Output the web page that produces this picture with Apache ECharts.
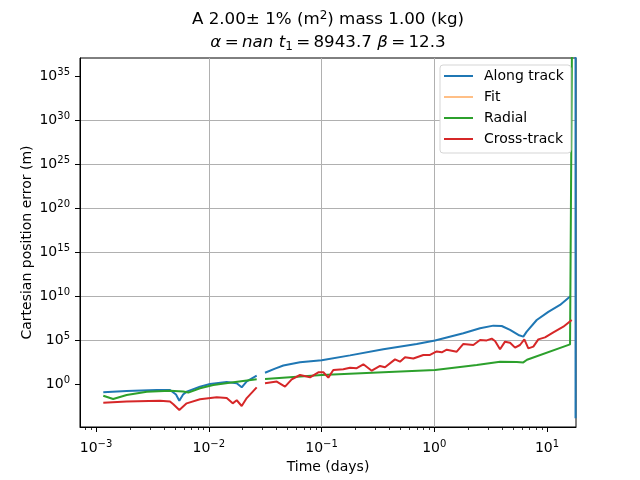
<!DOCTYPE html>
<html><head><meta charset="utf-8">
<script src="https://cdn.jsdelivr.net/npm/echarts@6/dist/echarts.min.js"></script>
<style>html,body{margin:0;padding:0;background:#fff}#c{width:640px;height:480px}</style>
</head><body><div id="c"></div>
<script>
// ---- data ----
const alongTrackDays = [0.00116,0.00187,0.00345,0.00453,0.00512,0.00548,0.00592,0.00637,0.00836,0.01026,0.01443,0.01770,0.01959,0.02172,0.02661,0.029,0.03153,0.0387,0.04585,0.06443,0.1004,0.1790,0.3533,0.6986,1.016,1.811,2.547,3.342,3.963,4.700,5.57,6.163,6.604,8.104,10.27,13.04,16.22,17.0,17.9,17.9];
const alongTrackErr  = [0.115,0.158,0.209,0.209,0.063,0.0126,0.063,0.135,0.501,1.0,1.70,1.20,0.417,2.0,8.9,null,19.1,56,126,288,501,1780,8710,35500,89100,575000,2.14e6,4.27e6,3.89e6,1.38e6,3.72e5,2.40e5,8.91e5,1.86e7,1.58e8,9.55e8,1e10,null,1.26e-4,1e40];
const fitDays = [];
const fitErr  = [];
const radialDays = [0.00116,0.00142,0.00187,0.00282,0.00453,0.00594,0.00659,0.00836,0.01097,0.01651,0.02661,0.029,0.03153,0.1004,0.3533,1.016,2.381,3.830,5.388,6.163,6.646,16.00,16.67];
const radialErr  = [0.0468,0.0200,0.0562,0.133,0.174,0.141,0.105,0.324,0.776,1.55,3.39,null,3.72,10.5,21.4,38.9,145,339,316,282,562,31600,1e40];
const crossDays = [0.00116,0.00187,0.00370,0.00453,0.00485,0.00548,0.00637,0.00836,0.01177,0.01443,0.01630,0.01770,0.01959,0.02172,0.02661,0.029,0.03153,0.04009,0.04745,0.05441,0.06443,0.07907,0.09370,0.1038,0.1149,0.1272,0.1560,0.1790,0.2052,0.2350,0.2788,0.3302,0.3656,0.4486,0.4966,0.5503,0.6521,0.7998,0.916,1.052,1.165,1.291,1.582,1.811,2.220,2.547,2.919,3.233,3.459,3.830,4.240,4.700,5.205,5.757,6.290,6.826,7.562,8.374,9.60,11.38,13.96,16.56];
const crossErr  = [0.00759,0.0100,0.0126,0.0100,0.00501,0.00112,0.00631,0.0182,0.0302,0.0251,0.00631,0.0141,0.00316,0.0251,0.417,null,1.20,1.86,0.501,3.39,10.5,5.75,21.4,21.4,5.25,38.9,46.8,70.8,63.1,174,32.4,112,79.4,631,339,1070,794,2000,2000,5010,3980,7940,4680,35500,26900,100000,89100,141000,77600,8710,64600,49000,13500,26900,117000,11000,17400,117000,200000,741000,3240000,18600000];
const xMajorTicks = [0.001,0.01,0.1,1,10];
const xMinorTicks = [0.0008,0.0009,0.002,0.003,0.004,0.005,0.006,0.007,0.008,0.009,0.02,0.03,0.04,0.05,0.06,0.07,0.08,0.09,0.2,0.3,0.4,0.5,0.6,0.7,0.8,0.9,2,3,4,5,6,7,8,9];
const yMajorTicks = [1,1e5,1e10,1e15,1e20,1e25,1e30,1e35];

const X_MIN = 7.21e-4, X_MAX = 18.07, Y_MIN = 1.29e-5, Y_MAX = 1.12e37;
const FONT = 'DejaVu Sans';

function pairs(xs, ys){ return xs.map((x,i)=> ys[i]==null ? [x,'-'] : [x, ys[i]]); }
function powLabel(v){
  const e = Math.round(Math.log10(v));
  return '{b|10}{s|' + (e < 0 ? '\u2212' + (-e) : e) + '}';
}
const labelRich = {
  b:{fontSize:14, fontFamily:FONT, color:'#000'},
  s:{fontSize:10, fontFamily:FONT, color:'#000', padding:[0,0,8,0]}
};
const gridLine = {show:true, showMinLine:false, showMaxLine:false, lineStyle:{color:'#b0b0b0', width:1}};
const TS = '\u2009';

const chart = echarts.init(document.getElementById('c'), null, {renderer:'canvas'});
chart.setOption({
  animation:false,
  backgroundColor:'#fff',
  grid:{left:80, right:64, top:58, bottom:53, show:true, borderColor:'#000', borderWidth:1, backgroundColor:'transparent'},
  xAxis:[{
    type:'log', min:X_MIN, max:X_MAX, position:'bottom',
    name:'Time (days)', nameLocation:'middle', nameGap:33, nameMoveOverlap:false,
    nameTextStyle:{fontSize:14, fontFamily:FONT, color:'#000'},
    axisLine:{show:true, lineStyle:{color:'#000', width:1}},
    axisTick:{show:true, length:5, lineStyle:{color:'#000', width:1}, customValues:xMajorTicks},
    axisLabel:{customValues:xMajorTicks, formatter:powLabel, rich:labelRich, margin:12},
    splitLine:gridLine, minorTick:{show:false}
  },{
    type:'log', min:X_MIN, max:X_MAX, position:'bottom',
    axisLine:{show:false}, axisLabel:{show:false}, splitLine:{show:false},
    axisTick:{show:true, length:3, lineStyle:{color:'#000', width:0.8}, customValues:xMinorTicks}
  }],
  yAxis:[{
    type:'log', min:Y_MIN, max:Y_MAX,
    name:'Cartesian position error (m)', nameLocation:'middle', nameGap:46, nameMoveOverlap:false,
    nameTextStyle:{fontSize:14, fontFamily:FONT, color:'#000'},
    axisLine:{show:true, lineStyle:{color:'#000', width:1}},
    axisTick:{show:true, length:5, lineStyle:{color:'#000', width:1}, customValues:yMajorTicks},
    axisLabel:{customValues:yMajorTicks, formatter:powLabel, rich:labelRich, margin:10},
    splitLine:gridLine, minorTick:{show:false}
  }],
  legend:{
    orient:'vertical', left:440, top:65, icon:'rect', itemWidth:29, itemHeight:2, itemGap:7,
    padding:[4,7,7,4], backgroundColor:'#fff', borderColor:'#d5d5d5', borderWidth:1, borderRadius:3,
    textStyle:{fontSize:14, fontFamily:FONT, color:'#000', padding:[0,0,0,6]},
    data:['Along track','Fit','Radial','Cross-track']
  },
  graphic:[
    {type:'text', x:328, y:20, z:10, style:{
      text:'{r|A 2.00\u00b1 1% (m}{sp|2}{r|) mass 1.00 (kg)}',
      rich:{r:{fontSize:16.7, fontFamily:FONT, fill:'#000'}, sp:{fontSize:12, fontFamily:FONT, fill:'#000', padding:[0,0,9,0]}},
      align:'center', verticalAlign:'middle', fontSize:16.7, fontFamily:FONT, fill:'#000'}},
    {type:'text', x:328, y:43, z:10, style:{
      text:'{i|\u03b1}{r|'+TS+'='+TS+'}{i|nan t}{sb|1}{r|'+TS+'='+TS+'8943.7 }{i|\u03b2}{r|'+TS+'='+TS+'12.3}',
      rich:{r:{fontSize:16.7, fontFamily:FONT, fill:'#000'}, i:{fontSize:16.7, fontFamily:FONT, fontStyle:'italic', fill:'#000'}, sb:{fontSize:12, fontFamily:FONT, fill:'#000', padding:[7,0,0,0]}},
      align:'center', verticalAlign:'middle', fontSize:16.7, fontFamily:FONT, fill:'#000'}}
  ],
  series:[
    {name:'Along track', type:'line', data:pairs(alongTrackDays, alongTrackErr), showSymbol:false, symbol:'none', connectNulls:false,
     lineStyle:{width:2, color:'#1f77b4'}, itemStyle:{color:'#1f77b4'}},
    {name:'Fit', type:'line', data:pairs(fitDays, fitErr), showSymbol:false, symbol:'none',
     lineStyle:{width:2, color:'rgba(255,127,14,0.5)'}, itemStyle:{color:'rgba(255,127,14,0.5)'}},
    {name:'Radial', type:'line', data:pairs(radialDays, radialErr), showSymbol:false, symbol:'none', connectNulls:false,
     lineStyle:{width:2, color:'#2ca02c'}, itemStyle:{color:'#2ca02c'}},
    {name:'Cross-track', type:'line', data:pairs(crossDays, crossErr), showSymbol:false, symbol:'none', connectNulls:false,
     lineStyle:{width:2, color:'#d62728'}, itemStyle:{color:'#d62728'}}
  ]
});
</script></body></html>
